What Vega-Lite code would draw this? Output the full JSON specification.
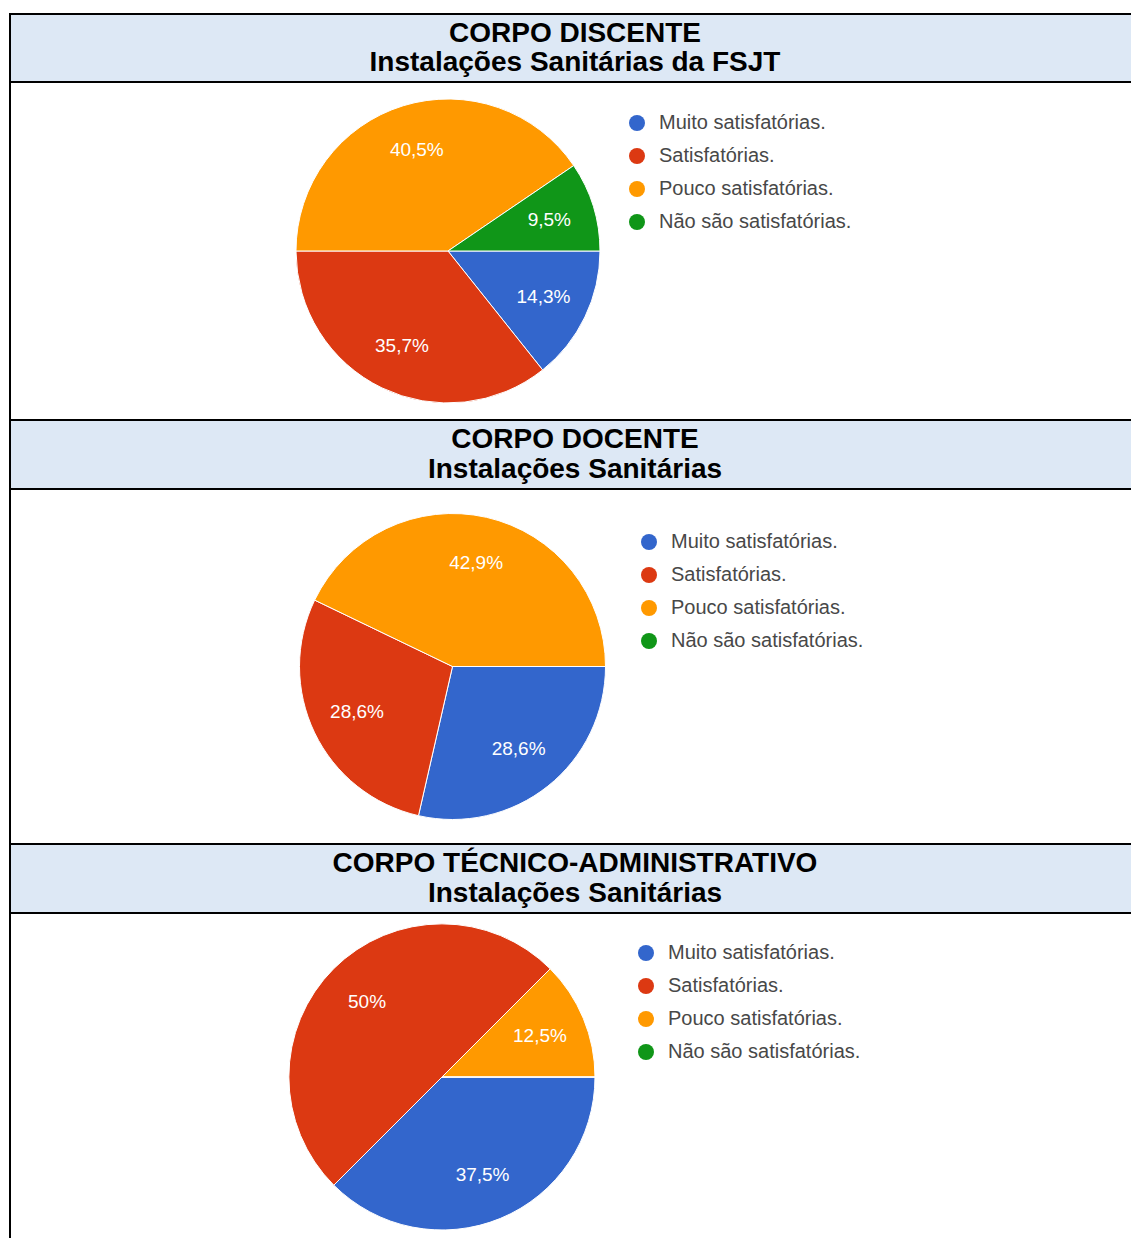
{
  "$schema": "https://vega.github.io/schema/vega-lite/v6.json",
  "padding": {"left": 9, "top": 13, "right": 0, "bottom": 0},
  "background": "white",
  "spacing": 0,
  "bounds": "flush",
  "config": {
    "locale": {"number": {"decimal": ",", "thousands": ".", "grouping": [3], "currency": ["R$", ""]}},
    "concat": {"spacing": 0},
    "legend": {
      "orient": "none",
      "title": null,
      "symbolType": "circle",
      "symbolSize": 256,
      "symbolStrokeWidth": 0,
      "labelFontSize": 20,
      "labelFont": "Liberation Sans",
      "labelColor": "#484848",
      "labelLimit": 500,
      "rowPadding": 13,
      "labelOffset": 12,
      "padding": 0
    }
  },
  "resolve": {"scale": {"color": "independent", "theta": "independent"}, "legend": {"color": "independent"}},
  "vconcat": [
    {
      "width": 1130, "height": 68,
      "view": {"fill": "#dde8f5", "stroke": "black", "strokeWidth": 2},
      "data": {"values": [{"title": "CORPO DISCENTE\nInstalações Sanitárias da FSJT"}]},
      "mark": {"type": "text", "font": "Liberation Sans", "fontWeight": "bold", "fontSize": 28, "lineBreak": "\n", "lineHeight": 29, "baseline": "middle", "align": "center", "dy": -14.5, "color": "black"},
      "encoding": {"text": {"field": "title", "type": "nominal"}}
    },
    {
      "width": 1130, "height": 338,
      "view": {"fill": "white", "stroke": "black", "strokeWidth": 2},
      "data": {"values": [
        {"resposta": "Muito satisfatórias.", "share": 0.143, "i": 1},
        {"resposta": "Satisfatórias.", "share": 0.357, "i": 2},
        {"resposta": "Pouco satisfatórias.", "share": 0.405, "i": 3},
        {"resposta": "Não são satisfatórias.", "share": 0.095, "i": 4}
      ]},
      "encoding": {
        "theta": {"field": "share", "type": "quantitative", "stack": true, "scale": {"range": [1.5708, 7.854]}},
        "color": {"field": "resposta", "type": "nominal",
          "scale": {"domain": ["Muito satisfatórias.", "Satisfatórias.", "Pouco satisfatórias.", "Não são satisfatórias."], "range": ["#3366cc", "#dc3912", "#ff9900", "#109618"]},
          "legend": {"legendX": 617, "legendY": 31}},
        "order": {"field": "i", "type": "quantitative"}
      },
      "layer": [
        {"mark": {"type": "arc", "outerRadius": 152, "stroke": "white", "strokeWidth": 1, "x": {"expr": "width * 0.3876"}}},
        {"transform": [{"filter": "datum.share > 0"}],
         "mark": {"type": "text", "radius": 106, "font": "Liberation Sans", "fontSize": 19, "baseline": "middle", "align": "center", "x": {"expr": "width * 0.3876"}},
         "encoding": {"text": {"field": "share", "type": "quantitative", "format": ".1~%"}, "color": {"value": "white"}}}
      ]
    },
    {
      "width": 1130, "height": 69,
      "view": {"fill": "#dde8f5", "stroke": "black", "strokeWidth": 2},
      "data": {"values": [{"title": "CORPO DOCENTE\nInstalações Sanitárias"}]},
      "mark": {"type": "text", "font": "Liberation Sans", "fontWeight": "bold", "fontSize": 28, "lineBreak": "\n", "lineHeight": 30, "baseline": "middle", "align": "center", "dy": -15, "color": "black"},
      "encoding": {"text": {"field": "title", "type": "nominal"}}
    },
    {
      "width": 1130, "height": 355,
      "view": {"fill": "white", "stroke": "black", "strokeWidth": 2},
      "data": {"values": [
        {"resposta": "Muito satisfatórias.", "share": 0.286, "i": 1},
        {"resposta": "Satisfatórias.", "share": 0.286, "i": 2},
        {"resposta": "Pouco satisfatórias.", "share": 0.429, "i": 3},
        {"resposta": "Não são satisfatórias.", "share": 0, "i": 4}
      ]},
      "encoding": {
        "theta": {"field": "share", "type": "quantitative", "stack": true, "scale": {"range": [1.5708, 7.854]}},
        "color": {"field": "resposta", "type": "nominal",
          "scale": {"domain": ["Muito satisfatórias.", "Satisfatórias.", "Pouco satisfatórias.", "Não são satisfatórias."], "range": ["#3366cc", "#dc3912", "#ff9900", "#109618"]},
          "legend": {"legendX": 629, "legendY": 43}},
        "order": {"field": "i", "type": "quantitative"}
      },
      "layer": [
        {"mark": {"type": "arc", "outerRadius": 153, "stroke": "white", "strokeWidth": 1, "x": {"expr": "width * 0.3916"}}},
        {"transform": [{"filter": "datum.share > 0"}],
         "mark": {"type": "text", "radius": 106, "font": "Liberation Sans", "fontSize": 19, "baseline": "middle", "align": "center", "x": {"expr": "width * 0.3916"}},
         "encoding": {"text": {"field": "share", "type": "quantitative", "format": ".1~%"}, "color": {"value": "white"}}}
      ]
    },
    {
      "width": 1130, "height": 69,
      "view": {"fill": "#dde8f5", "stroke": "black", "strokeWidth": 2},
      "data": {"values": [{"title": "CORPO TÉCNICO-ADMINISTRATIVO\nInstalações Sanitárias"}]},
      "mark": {"type": "text", "font": "Liberation Sans", "fontWeight": "bold", "fontSize": 28, "lineBreak": "\n", "lineHeight": 30, "baseline": "middle", "align": "center", "dy": -15, "color": "black"},
      "encoding": {"text": {"field": "title", "type": "nominal"}}
    },
    {
      "width": 1130, "height": 328,
      "view": {"fill": "white", "stroke": "black", "strokeWidth": 2},
      "data": {"values": [
        {"resposta": "Muito satisfatórias.", "share": 0.375, "i": 1},
        {"resposta": "Satisfatórias.", "share": 0.5, "i": 2},
        {"resposta": "Pouco satisfatórias.", "share": 0.125, "i": 3},
        {"resposta": "Não são satisfatórias.", "share": 0, "i": 4}
      ]},
      "encoding": {
        "theta": {"field": "share", "type": "quantitative", "stack": true, "scale": {"range": [1.5708, 7.854]}},
        "color": {"field": "resposta", "type": "nominal",
          "scale": {"domain": ["Muito satisfatórias.", "Satisfatórias.", "Pouco satisfatórias.", "Não são satisfatórias."], "range": ["#3366cc", "#dc3912", "#ff9900", "#109618"]},
          "legend": {"legendX": 626, "legendY": 30}},
        "order": {"field": "i", "type": "quantitative"}
      },
      "layer": [
        {"mark": {"type": "arc", "outerRadius": 153, "stroke": "white", "strokeWidth": 1, "x": {"expr": "width * 0.3823"}}},
        {"transform": [{"filter": "datum.share > 0"}],
         "mark": {"type": "text", "radius": 106, "font": "Liberation Sans", "fontSize": 19, "baseline": "middle", "align": "center", "x": {"expr": "width * 0.3823"}},
         "encoding": {"text": {"field": "share", "type": "quantitative", "format": ".1~%"}, "color": {"value": "white"}}}
      ]
    }
  ]
}
